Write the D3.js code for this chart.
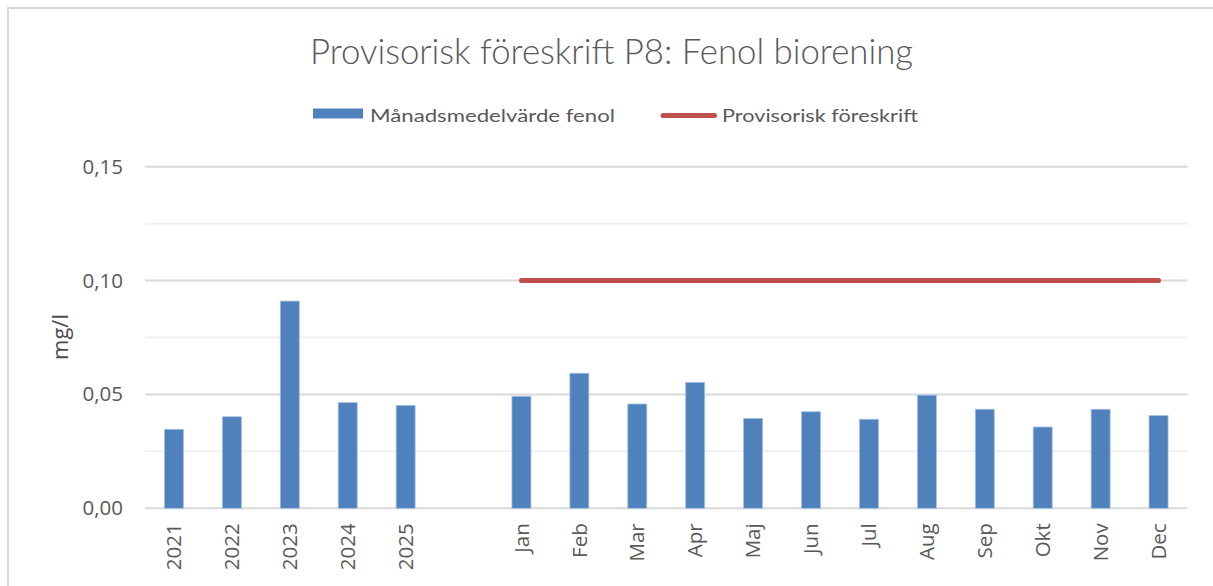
<!DOCTYPE html>
<html>
<head>
<meta charset="utf-8">
<script src="https://cdn.jsdelivr.net/npm/d3@7"></script>
<style>
    body { margin: 0; background: #ffffff; }
    svg { display: block; }
</style>
</head>
<body>
<svg id="chart"></svg>
<script>
// chart data
var categories = ["2021", "2022", "2023", "2024", "2025", "",
    "Jan", "Feb", "Mar", "Apr", "Maj", "Jun", "Jul", "Aug", "Sep", "Okt", "Nov", "Dec"];
var monthlyMean = [0.0347, 0.0402, 0.0910, 0.0464, 0.0452, null,
    0.0492, 0.0593, 0.0458, 0.0553, 0.0395, 0.0424, 0.0391, 0.0497, 0.0435, 0.0357, 0.0435, 0.0407];
var provisionalLimit = [null, null, null, null, null, null,
    0.10, 0.10, 0.10, 0.10, 0.10, 0.10, 0.10, 0.10, 0.10, 0.10, 0.10, 0.10];
var yLabels = [0, 0.05, 0.10, 0.15];
var gridValues = [0, 0.025, 0.05, 0.075, 0.10, 0.125, 0.15];

var chartTitle = "Provisorisk föreskrift P8: Fenol biorening";
var seriesNames = ["Månadsmedelvärde fenol", "Provisorisk föreskrift"];
var yTitle = "mg/l";

var size = {
    width: 1213,
    height: 586,
    left: 145,
    right: 1187.5,
    top: 166.7,
    bottom: 508.3
};

var colors = {
    bar: "#4f81bd",
    line: "#c0504d",
    text: "#595959",
    major: "#d9d9d9",
    minor: "#f0f0f0"
};

var svg = d3.select("#chart")
    .attr("width", size.width)
    .attr("height", size.height);

// outer chart border
svg.append("rect")
    .attr("x", 8)
    .attr("y", 8)
    .attr("width", 1230)
    .attr("height", 600)
    .attr("fill", "none")
    .attr("stroke", colors.major)
    .attr("stroke-width", 2);

var x = d3.scaleBand()
    .domain(categories)
    .range([size.left, size.right])
    .paddingInner(0.672)
    .paddingOuter(0.336);

var y = d3.scaleLinear()
    .domain([0, 0.15])
    .range([size.bottom, size.top]);

// gridlines
svg.append("g")
    .selectAll("line")
    .data(gridValues)
    .enter()
    .append("line")
    .attr("x1", size.left)
    .attr("x2", size.right)
    .attr("y1", d => y(d))
    .attr("y2", d => y(d))
    .attr("stroke", (d, i) => i % 2 == 0 ? colors.major : colors.minor)
    .attr("stroke-width", 2);

// y axis labels
var fmt = d3.format(".2f");
var yAxis = d3.axisLeft(y)
    .tickValues(yLabels)
    .tickSize(0)
    .tickPadding(22)
    .tickFormat(d => fmt(d).replace(".", ","));
svg.append("g")
    .attr("class", "y-axis")
    .attr("transform", "translate(" + size.left + ",0)")
    .call(yAxis)
    .call(g => g.select(".domain").remove());
svg.selectAll(".y-axis .tick text")
    .attr("fill", colors.text)
    .style("font-family", "'Open Sans'")
    .style("font-size", "20.5px");

// x axis labels, rotated
var xAxis = d3.axisBottom(x)
    .tickSize(0)
    .tickPadding(0);
svg.append("g")
    .attr("class", "x-axis")
    .attr("transform", "translate(0," + size.bottom + ")")
    .call(xAxis)
    .call(g => g.select(".domain").remove());
svg.selectAll(".x-axis .tick text")
    .attr("fill", colors.text)
    .attr("transform", "rotate(-90)")
    .attr("text-anchor", "end")
    .attr("x", -15)
    .attr("y", 0)
    .attr("dy", "0.35em")
    .style("font-family", "'Open Sans'")
    .style("font-size", "20.5px");

// bars
var barData = categories.map((c, i) => ({ cat: c, value: monthlyMean[i] }))
    .filter(d => d.value != null);
svg.append("g")
    .selectAll("rect")
    .data(barData)
    .enter()
    .append("rect")
    .attr("x", d => x(d.cat))
    .attr("y", d => y(d.value))
    .attr("width", x.bandwidth())
    .attr("height", d => y(0) - y(d.value))
    .attr("fill", colors.bar)
    .attr("stroke", "#a7c0e0")
    .attr("stroke-width", 0.8);

// limit line
var lineData = categories.map((c, i) => ({ cat: c, value: provisionalLimit[i] }));
var line = d3.line()
    .defined(d => d.value != null)
    .x(d => x(d.cat) + x.bandwidth() / 2)
    .y(d => y(d.value));
svg.append("path")
    .datum(lineData)
    .attr("d", line)
    .attr("fill", "none")
    .attr("stroke", colors.line)
    .attr("stroke-width", 5)
    .attr("stroke-linecap", "round");

// title
svg.append("text")
    .attr("x", 611.5)
    .attr("y", 64)
    .attr("text-anchor", "middle")
    .attr("fill", colors.text)
    .attr("textLength", 603)
    .attr("lengthAdjust", "spacingAndGlyphs")
    .style("font-family", "Lato")
    .style("font-weight", "300")
    .style("font-size", "36px")
    .text(chartTitle);

// y axis title
svg.append("text")
    .attr("transform", "translate(68,337) rotate(-90)")
    .attr("text-anchor", "middle")
    .attr("fill", "#4d4d4d")
    .style("font-family", "'Open Sans'")
    .style("font-size", "22px")
    .text(yTitle);

// legend
var legend = svg.append("g");
legend.append("rect")
    .attr("x", 313)
    .attr("y", 108.5)
    .attr("width", 50)
    .attr("height", 10)
    .attr("fill", colors.bar);
legend.append("text")
    .attr("x", 370)
    .attr("y", 122)
    .attr("fill", colors.text)
    .attr("textLength", 245)
    .attr("lengthAdjust", "spacingAndGlyphs")
    .style("font-family", "Lato")
    .style("font-size", "18px")
    .text(seriesNames[0]);
legend.append("line")
    .attr("x1", 663)
    .attr("x2", 714.5)
    .attr("y1", 115.5)
    .attr("y2", 115.5)
    .attr("stroke", colors.line)
    .attr("stroke-width", 5)
    .attr("stroke-linecap", "round");
legend.append("text")
    .attr("x", 722)
    .attr("y", 122)
    .attr("fill", colors.text)
    .attr("textLength", 196)
    .attr("lengthAdjust", "spacingAndGlyphs")
    .style("font-family", "Lato")
    .style("font-size", "18px")
    .text(seriesNames[1]);
</script>
</body>
</html>
